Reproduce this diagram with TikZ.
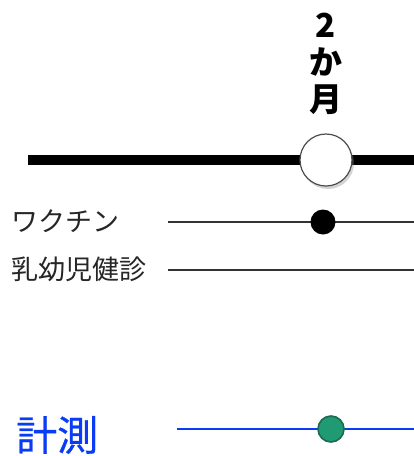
\documentclass[tikz,border=0pt]{standalone}
\usepackage{fontspec}
\setmainfont{Noto Sans CJK JP}
\newfontfamily\medfont{Noto Sans CJK JP}[FakeBold=0.6]
\usepackage{tikz}
\usetikzlibrary{shadows}
\definecolor{mesblue}{HTML}{0A3CF5}
\definecolor{dotgreen}{HTML}{1F9A72}
\definecolor{dotedge}{HTML}{1D6A50}

\begin{document}
\begin{tikzpicture}[x=1pt,y=-1pt]
      \useasboundingbox (0,0) rectangle (414,456);
      % main time line
      \coordinate (m0) at (28,160);
      \coordinate (m1) at (414,160);
      \draw [black, line width=10pt] (m0) -- (m1);
      \node [circle, draw=black!70, line width=1.2pt, fill=white, minimum size=52pt, inner sep=0pt,
             drop shadow={shadow xshift=2pt, shadow yshift=-3pt, opacity=0.35}] (mon) at (326,160) {};
      \node [align=center, font=\bfseries\fontsize{33}{37}\selectfont, inner sep=0pt] (lab) at (326,64) {2\\か\\月};
      % rows
      \node [anchor=west, inner sep=0pt, font=\fontsize{27}{27}\selectfont, text=black!85] (vac) at (11,221) {ワクチン};
      \node [anchor=west, inner sep=0pt, font=\fontsize{27}{27}\selectfont, text=black!85] (chk) at (11,269) {乳幼児健診};
      \coordinate (v0) at (168,222);
      \coordinate (v1) at (414,222);
      \coordinate (c0) at (168,270);
      \coordinate (c1) at (414,270);
      \draw [black!80, line width=1.5pt] (v0) -- (v1);
      \draw [black!80, line width=1.5pt] (c0) -- (c1);
      \node [circle, fill=black, minimum size=25pt, inner sep=0pt] (vdot) at (323,222) {};
      % measurement
      \node [anchor=west, inner sep=0pt, font=\medfont\fontsize{41}{41}\selectfont, text=mesblue] (mes) at (16,435) {計測};
      \coordinate (s0) at (177,429);
      \coordinate (s1) at (414,429);
      \draw [mesblue, line width=2.6pt] (s0) -- (s1);
      \node [circle, fill=dotgreen, draw=dotedge, line width=1.6pt, minimum size=26pt, inner sep=0pt] (sdot) at (331,429) {};
    \end{tikzpicture}
\end{document}
